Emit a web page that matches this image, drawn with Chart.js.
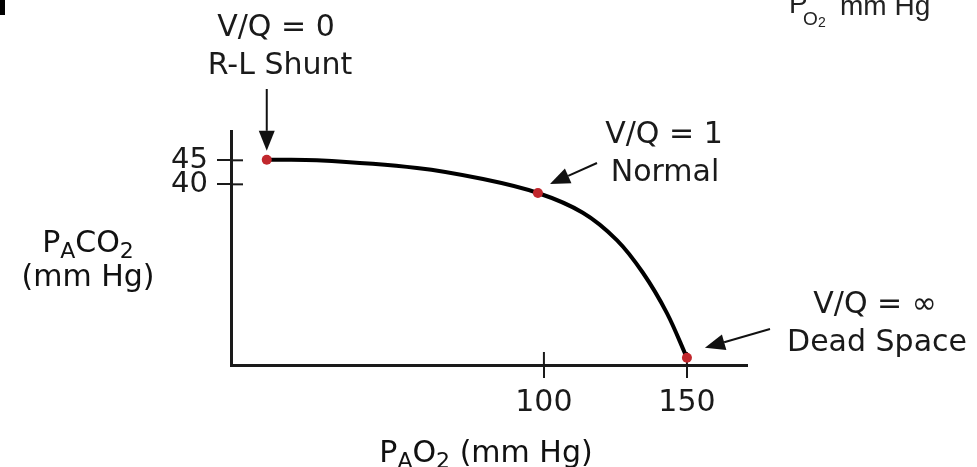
<!DOCTYPE html>
<html>
<head>
<meta charset="utf-8">
<script src="https://cdn.jsdelivr.net/npm/chart.js@4/dist/chart.umd.min.js"></script>
<style>
  html, body { margin: 0; padding: 0; background: #fff; }
  #wrap { position: relative; width: 977px; height: 467px; }
</style>
</head>
<body>
<div id="wrap"><canvas id="vqChart"></canvas></div>
<script>
// O2-CO2 diagram, values (axis units)
const curvePO2 = [3.1, 20.6, 55.6, 78.7, 97.9, 113.6, 125.5, 134.6, 143, 150];
const curvePCO2 = [45.1, 45, 43.4, 41.1, 38.2, 34.1, 28.4, 21.6, 13.2, 3.9];

const markerPO2 = [3.1, 97.9, 150];
const markerPCO2 = [45.1, 38.2, 3.9];
const markerNames = ['R-L Shunt', 'Normal', 'Dead Space'];
const markerRatios = ['V/Q = 0', 'V/Q = 1', 'V/Q = \u221E'];

const xTickValues = [100, 150];
const yTickValues = [40, 45];

const FONT = '"DejaVu Sans", sans-serif';
const INK = '#1a1a1a';

// text with subscripts, centred on cx
function drawRich(ctx, parts, cx, baseline, size) {
    const subSize = Math.round(size * 0.74);
    let total = 0;
    parts.forEach(p => {
        ctx.font = (p.sub ? subSize : size) + 'px ' + FONT;
        p.w = ctx.measureText(p.t).width;
        total += p.w;
    });
    let x = cx - total / 2;
    ctx.textAlign = 'left';
    ctx.textBaseline = 'alphabetic';
    parts.forEach(p => {
        ctx.font = (p.sub ? subSize : size) + 'px ' + FONT;
        ctx.fillText(p.t, x, baseline + (p.sub ? Math.round(size * 0.2) : 0));
        x += p.w;
    });
}

function drawArrow(ctx, x1, y1, x2, y2) {
    const ang = Math.atan2(y2 - y1, x2 - x1);
    const len = 20, half = 8;
    const bx = x2 - len * Math.cos(ang), by = y2 - len * Math.sin(ang);
    ctx.strokeStyle = '#111';
    ctx.lineWidth = 2;
    ctx.beginPath();
    ctx.moveTo(x1, y1);
    ctx.lineTo(bx, by);
    ctx.stroke();
    ctx.fillStyle = '#111';
    ctx.beginPath();
    ctx.moveTo(x2, y2);
    ctx.lineTo(bx - half * Math.sin(ang), by + half * Math.cos(ang));
    ctx.lineTo(bx + half * Math.sin(ang), by - half * Math.cos(ang));
    ctx.closePath();
    ctx.fill();
}

const innerTicks = {
    id: 'innerTicks',
    beforeDatasetsDraw(chart) {
        const { ctx, chartArea, scales } = chart;
        ctx.save();
        ctx.strokeStyle = INK;
        ctx.lineWidth = 2;
        yTickValues.forEach(v => {
            const y = scales.y.getPixelForValue(v);
            ctx.beginPath();
            ctx.moveTo(chartArea.left, y);
            ctx.lineTo(chartArea.left + 12, y);
            ctx.stroke();
        });
        xTickValues.forEach(v => {
            const x = scales.x.getPixelForValue(v);
            ctx.beginPath();
            ctx.moveTo(x, chartArea.bottom);
            ctx.lineTo(x, chartArea.bottom - 13);
            ctx.stroke();
        });
        ctx.restore();
    }
};

const annotations = {
    id: 'annotations',
    afterDraw(chart) {
        const { ctx, scales } = chart;
        const px = markerPO2.map(v => scales.x.getPixelForValue(v));
        const py = markerPCO2.map(v => scales.y.getPixelForValue(v));
        ctx.save();
        ctx.fillStyle = INK;
        ctx.textAlign = 'center';
        ctx.textBaseline = 'alphabetic';
        ctx.font = '30px ' + FONT;

        // labels
        ctx.fillText(markerRatios[0], 276, 36);
        ctx.fillText(markerNames[0], 280, 74);
        ctx.fillText(markerRatios[1], 664, 143);
        ctx.fillText(markerNames[1], 665, 181);
        ctx.fillText(markerRatios[2], 875, 313);
        ctx.fillText(markerNames[2], 877, 351);

        // arrows pointing at the markers
        drawArrow(ctx, px[0], 89, px[0], py[0] - 9);
        drawArrow(ctx, 597, 163, px[1] + 12, py[1] - 9);
        drawArrow(ctx, 770, 329, px[2] + 18, py[2] - 10);

        // axis titles
        drawRich(ctx, [{ t: 'P' }, { t: 'A', sub: true }, { t: 'CO' }, { t: '2', sub: true }], 88, 252, 30);
        ctx.textAlign = 'center';
        ctx.font = '30px ' + FONT;
        ctx.fillText('(mm Hg)', 88, 286);
        drawRich(ctx, [{ t: 'P' }, { t: 'A', sub: true }, { t: 'O' }, { t: '2', sub: true }, { t: ' (mm Hg)' }], 486, 462, 30);

        // stray bits at the top edge of the source image
        ctx.fillStyle = '#000';
        ctx.fillRect(0, 0, 5, 15);
        ctx.fillStyle = '#222';
        ctx.textAlign = 'left';
        ctx.font = '28px "Liberation Sans", Arial, sans-serif';
        ctx.fillText('P', 789, 13);
        ctx.font = '19px "Liberation Sans", Arial, sans-serif';
        ctx.fillText('O', 803, 25);
        ctx.font = '14px "Liberation Sans", Arial, sans-serif';
        ctx.fillText('2', 818, 27);
        ctx.font = '28px "Liberation Sans", Arial, sans-serif';
        ctx.fillText('mm Hg', 840, 15);
        ctx.restore();
    }
};

const ctx = document.getElementById('vqChart').getContext('2d');
new Chart(ctx, {
    type: 'line',
    data: {
        datasets: [{
            label: 'V/Q points',
            data: markerPO2.map((x, i) => ({ x, y: markerPCO2[i] })),
            showLine: false,
            pointRadius: 5,
            pointBackgroundColor: '#c1272d',
            pointBorderWidth: 0,
            order: 0
        }, {
            label: 'V/Q line',
            data: curvePO2.map((x, i) => ({ x, y: curvePCO2[i] })),
            borderColor: '#000',
            borderWidth: 4,
            pointRadius: 0,
            fill: false,
            tension: 0.35,
            order: 1
        }]
    },
    options: {
        responsive: true,
        maintainAspectRatio: false,
        animation: false,
        events: [],
        layout: { padding: { top: 131, right: 230, left: 0, bottom: 0 } },
        plugins: { legend: { display: false }, tooltip: { enabled: false } },
        scales: {
            x: {
                type: 'linear',
                min: -9.4,
                max: 171,
                afterBuildTicks: (scale) => { scale.ticks = xTickValues.map(v => ({ value: v })); },
                afterFit: (scale) => { scale.height = 102; },
                ticks: { color: INK, font: { family: FONT, size: 30 }, padding: 7, maxRotation: 0 },
                grid: { drawOnChartArea: false, color: INK, lineWidth: 2, tickLength: 13 },
                border: { color: INK, width: 3 }
            },
            y: {
                type: 'linear',
                min: 2.4,
                max: 51.1,
                afterBuildTicks: (scale) => { scale.ticks = yTickValues.map(v => ({ value: v })); },
                afterFit: (scale) => { scale.width = 231; },
                ticks: { color: INK, font: { family: FONT, size: 29 }, padding: 9 },
                grid: { drawOnChartArea: false, color: INK, lineWidth: 2, tickLength: 14 },
                border: { color: INK, width: 3 }
            }
        }
    },
    plugins: [innerTicks, annotations]
});
</script>
</body>
</html>
